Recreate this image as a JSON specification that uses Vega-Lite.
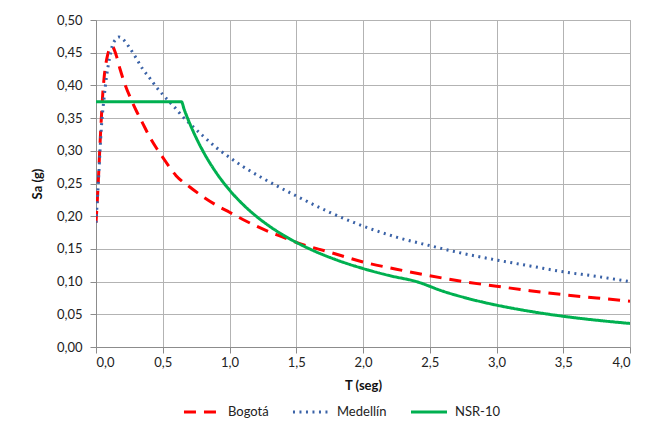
{
  "$schema": "https://vega.github.io/schema/vega-lite/v6.json",
  "autosize": {"type": "none"},
  "padding": {"left": 96, "top": 20, "right": 25, "bottom": 85},
  "width": 534,
  "height": 327,
  "background": "white",
  "config": {
    "font": "Lato",
    "view": {"stroke": "#B3B3B3", "strokeWidth": 1},
    "axis": {
      "labelFont": "Lato", "labelFontSize": 13, "labelColor": "#222222",
      "titleFont": "Lato", "titleFontSize": 13, "titleFontWeight": "bold", "titleColor": "#111111",
      "gridColor": "#B3B3B3", "gridWidth": 1, "gridOpacity": 1,
      "domainColor": "#8C8C8C", "tickColor": "#8C8C8C", "tickSize": 6
    },
    "legend": {"labelFont": "Lato", "labelFontSize": 13, "labelColor": "#222222"}
  },
  "data": {
    "values": [
      {"T": 0.00, "Sa": 0.190, "serie": "Bogotá"},
      {"T": 0.01, "Sa": 0.225, "serie": "Bogotá"},
      {"T": 0.02, "Sa": 0.265, "serie": "Bogotá"},
      {"T": 0.03, "Sa": 0.310, "serie": "Bogotá"},
      {"T": 0.04, "Sa": 0.350, "serie": "Bogotá"},
      {"T": 0.05, "Sa": 0.385, "serie": "Bogotá"},
      {"T": 0.06, "Sa": 0.410, "serie": "Bogotá"},
      {"T": 0.08, "Sa": 0.440, "serie": "Bogotá"},
      {"T": 0.10, "Sa": 0.455, "serie": "Bogotá"},
      {"T": 0.12, "Sa": 0.460, "serie": "Bogotá"},
      {"T": 0.15, "Sa": 0.447, "serie": "Bogotá"},
      {"T": 0.18, "Sa": 0.425, "serie": "Bogotá"},
      {"T": 0.22, "Sa": 0.400, "serie": "Bogotá"},
      {"T": 0.26, "Sa": 0.380, "serie": "Bogotá"},
      {"T": 0.30, "Sa": 0.362, "serie": "Bogotá"},
      {"T": 0.35, "Sa": 0.342, "serie": "Bogotá"},
      {"T": 0.40, "Sa": 0.322, "serie": "Bogotá"},
      {"T": 0.45, "Sa": 0.305, "serie": "Bogotá"},
      {"T": 0.50, "Sa": 0.290, "serie": "Bogotá"},
      {"T": 0.60, "Sa": 0.262, "serie": "Bogotá"},
      {"T": 0.70, "Sa": 0.245, "serie": "Bogotá"},
      {"T": 0.80, "Sa": 0.230, "serie": "Bogotá"},
      {"T": 0.90, "Sa": 0.217, "serie": "Bogotá"},
      {"T": 1.00, "Sa": 0.206, "serie": "Bogotá"},
      {"T": 1.10, "Sa": 0.195, "serie": "Bogotá"},
      {"T": 1.20, "Sa": 0.185, "serie": "Bogotá"},
      {"T": 1.30, "Sa": 0.176, "serie": "Bogotá"},
      {"T": 1.40, "Sa": 0.168, "serie": "Bogotá"},
      {"T": 1.50, "Sa": 0.160, "serie": "Bogotá"},
      {"T": 1.75, "Sa": 0.145, "serie": "Bogotá"},
      {"T": 2.00, "Sa": 0.130, "serie": "Bogotá"},
      {"T": 2.25, "Sa": 0.119, "serie": "Bogotá"},
      {"T": 2.50, "Sa": 0.109, "serie": "Bogotá"},
      {"T": 2.75, "Sa": 0.100, "serie": "Bogotá"},
      {"T": 3.00, "Sa": 0.093, "serie": "Bogotá"},
      {"T": 3.25, "Sa": 0.086, "serie": "Bogotá"},
      {"T": 3.50, "Sa": 0.080, "serie": "Bogotá"},
      {"T": 3.75, "Sa": 0.075, "serie": "Bogotá"},
      {"T": 4.00, "Sa": 0.070, "serie": "Bogotá"},

      {"T": 0.00, "Sa": 0.190, "serie": "Medellín"},
      {"T": 0.01, "Sa": 0.225, "serie": "Medellín"},
      {"T": 0.02, "Sa": 0.260, "serie": "Medellín"},
      {"T": 0.03, "Sa": 0.300, "serie": "Medellín"},
      {"T": 0.04, "Sa": 0.335, "serie": "Medellín"},
      {"T": 0.05, "Sa": 0.360, "serie": "Medellín"},
      {"T": 0.06, "Sa": 0.380, "serie": "Medellín"},
      {"T": 0.08, "Sa": 0.415, "serie": "Medellín"},
      {"T": 0.10, "Sa": 0.440, "serie": "Medellín"},
      {"T": 0.12, "Sa": 0.459, "serie": "Medellín"},
      {"T": 0.15, "Sa": 0.471, "serie": "Medellín"},
      {"T": 0.17, "Sa": 0.474, "serie": "Medellín"},
      {"T": 0.20, "Sa": 0.471, "serie": "Medellín"},
      {"T": 0.25, "Sa": 0.458, "serie": "Medellín"},
      {"T": 0.30, "Sa": 0.442, "serie": "Medellín"},
      {"T": 0.35, "Sa": 0.425, "serie": "Medellín"},
      {"T": 0.40, "Sa": 0.412, "serie": "Medellín"},
      {"T": 0.45, "Sa": 0.398, "serie": "Medellín"},
      {"T": 0.50, "Sa": 0.386, "serie": "Medellín"},
      {"T": 0.55, "Sa": 0.375, "serie": "Medellín"},
      {"T": 0.60, "Sa": 0.364, "serie": "Medellín"},
      {"T": 0.65, "Sa": 0.352, "serie": "Medellín"},
      {"T": 0.70, "Sa": 0.342, "serie": "Medellín"},
      {"T": 0.80, "Sa": 0.323, "serie": "Medellín"},
      {"T": 0.90, "Sa": 0.305, "serie": "Medellín"},
      {"T": 1.00, "Sa": 0.290, "serie": "Medellín"},
      {"T": 1.10, "Sa": 0.276, "serie": "Medellín"},
      {"T": 1.25, "Sa": 0.258, "serie": "Medellín"},
      {"T": 1.50, "Sa": 0.231, "serie": "Medellín"},
      {"T": 1.75, "Sa": 0.206, "serie": "Medellín"},
      {"T": 2.00, "Sa": 0.185, "serie": "Medellín"},
      {"T": 2.25, "Sa": 0.168, "serie": "Medellín"},
      {"T": 2.50, "Sa": 0.155, "serie": "Medellín"},
      {"T": 2.75, "Sa": 0.143, "serie": "Medellín"},
      {"T": 3.00, "Sa": 0.133, "serie": "Medellín"},
      {"T": 3.25, "Sa": 0.124, "serie": "Medellín"},
      {"T": 3.50, "Sa": 0.115, "serie": "Medellín"},
      {"T": 3.75, "Sa": 0.108, "serie": "Medellín"},
      {"T": 4.00, "Sa": 0.100, "serie": "Medellín"},

      {"T": 0.00, "Sa": 0.375, "serie": "NSR-10"},
      {"T": 0.64, "Sa": 0.375, "serie": "NSR-10"},
      {"T": 0.66, "Sa": 0.3636, "serie": "NSR-10"},
      {"T": 0.70, "Sa": 0.3429, "serie": "NSR-10"},
      {"T": 0.75, "Sa": 0.320, "serie": "NSR-10"},
      {"T": 0.80, "Sa": 0.300, "serie": "NSR-10"},
      {"T": 0.90, "Sa": 0.2667, "serie": "NSR-10"},
      {"T": 1.00, "Sa": 0.240, "serie": "NSR-10"},
      {"T": 1.10, "Sa": 0.2182, "serie": "NSR-10"},
      {"T": 1.20, "Sa": 0.200, "serie": "NSR-10"},
      {"T": 1.30, "Sa": 0.1846, "serie": "NSR-10"},
      {"T": 1.40, "Sa": 0.1714, "serie": "NSR-10"},
      {"T": 1.60, "Sa": 0.150, "serie": "NSR-10"},
      {"T": 1.80, "Sa": 0.1333, "serie": "NSR-10"},
      {"T": 2.00, "Sa": 0.120, "serie": "NSR-10"},
      {"T": 2.20, "Sa": 0.1091, "serie": "NSR-10"},
      {"T": 2.40, "Sa": 0.100, "serie": "NSR-10"},
      {"T": 2.60, "Sa": 0.0852, "serie": "NSR-10"},
      {"T": 2.80, "Sa": 0.0735, "serie": "NSR-10"},
      {"T": 3.00, "Sa": 0.064, "serie": "NSR-10"},
      {"T": 3.20, "Sa": 0.0563, "serie": "NSR-10"},
      {"T": 3.40, "Sa": 0.0498, "serie": "NSR-10"},
      {"T": 3.60, "Sa": 0.0444, "serie": "NSR-10"},
      {"T": 3.80, "Sa": 0.0399, "serie": "NSR-10"},
      {"T": 4.00, "Sa": 0.036, "serie": "NSR-10"}
    ]
  },
  "mark": {"type": "line", "strokeWidth": 3, "interpolate": "monotone", "clip": true},
  "encoding": {
    "x": {
      "field": "T", "type": "quantitative",
      "scale": {"domain": [0, 4], "nice": false},
      "axis": {
        "title": "T (seg)", "values": [0, 0.5, 1, 1.5, 2, 2.5, 3, 3.5, 4],
        "labelExpr": "replace(format(datum.value, '.1f'), '.', ',')",
        "labelPadding": 3, "titlePadding": 10
      }
    },
    "y": {
      "field": "Sa", "type": "quantitative",
      "scale": {"domain": [0, 0.5], "nice": false},
      "axis": {
        "title": "Sa (g)", "values": [0, 0.05, 0.1, 0.15, 0.2, 0.25, 0.3, 0.35, 0.4, 0.45, 0.5],
        "labelExpr": "replace(format(datum.value, '.2f'), '.', ',')",
        "labelPadding": 8, "titlePadding": 12
      }
    },
    "color": {
      "field": "serie", "type": "nominal",
      "scale": {"domain": ["Bogotá", "Medellín", "NSR-10"], "range": ["#FF0000", "#3A62A7", "#00B050"]},
      "legend": {
        "title": null, "orient": "none", "legendX": 86, "legendY": 372,
        "direction": "horizontal", "symbolType": "stroke", "symbolSize": 1300,
        "symbolStrokeWidth": 3, "columnPadding": 17, "labelOffset": 6
      }
    },
    "strokeDash": {
      "field": "serie", "type": "nominal",
      "scale": {"domain": ["Bogotá", "Medellín", "NSR-10"], "range": [[12, 8], [2, 4.5], [1, 0]]},
      "legend": {
        "title": null, "orient": "none", "legendX": 86, "legendY": 372,
        "direction": "horizontal", "symbolType": "stroke", "symbolSize": 1300,
        "symbolStrokeWidth": 3, "columnPadding": 17, "labelOffset": 6
      }
    }
  }
}
